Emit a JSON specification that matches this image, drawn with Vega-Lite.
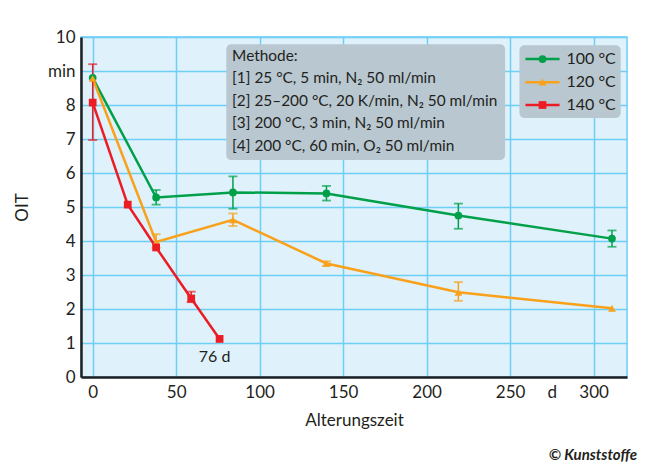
{
  "$schema": "https://vega.github.io/schema/vega-lite/v6.json",
  "autosize": {"type": "none"},
  "width": 546,
  "height": 340,
  "padding": {"left": 81, "top": 37, "right": 21, "bottom": 89},
  "background": "white",
  "config": {
    "font": "Lato",
    "view": {"fill": "#dff1fa", "stroke": "#6dcff6", "strokeWidth": 1.5},
    "axis": {"labelFont": "Lato", "titleFont": "Lato", "labelColor": "#231f20", "titleColor": "#231f20", "labelFontSize": 17, "titleFontSize": 17, "titleFontWeight": "normal", "grid": true, "gridColor": "#6dcff6", "gridWidth": 1.5, "domainColor": "#231f20", "domainWidth": 2.5, "ticks": false},
    "text": {"font": "Lato", "color": "#231f20"}
  },
  "data": {"values": [
    {"series": "100 °C", "t": 0, "oit": 8.8, "lo": null, "hi": null},
    {"series": "100 °C", "t": 38, "oit": 5.28, "lo": 5.07, "hi": 5.5},
    {"series": "100 °C", "t": 84, "oit": 5.43, "lo": 4.95, "hi": 5.9},
    {"series": "100 °C", "t": 140, "oit": 5.4, "lo": 5.19, "hi": 5.62},
    {"series": "100 °C", "t": 219, "oit": 4.75, "lo": 4.36, "hi": 5.1},
    {"series": "100 °C", "t": 311, "oit": 4.07, "lo": 3.83, "hi": 4.31},
    {"series": "120 °C", "t": 0, "oit": 8.78, "lo": null, "hi": null},
    {"series": "120 °C", "t": 38, "oit": 3.97, "lo": 3.8, "hi": 4.2},
    {"series": "120 °C", "t": 84, "oit": 4.62, "lo": 4.44, "hi": 4.81},
    {"series": "120 °C", "t": 140, "oit": 3.34, "lo": 3.27, "hi": 3.4},
    {"series": "120 °C", "t": 219, "oit": 2.49, "lo": 2.24, "hi": 2.79},
    {"series": "120 °C", "t": 311, "oit": 2.02, "lo": null, "hi": null},
    {"series": "140 °C", "t": 0, "oit": 8.07, "lo": 6.97, "hi": 9.2},
    {"series": "140 °C", "t": 21, "oit": 5.07, "lo": null, "hi": null},
    {"series": "140 °C", "t": 38, "oit": 3.81, "lo": null, "hi": null},
    {"series": "140 °C", "t": 59, "oit": 2.31, "lo": 2.2, "hi": 2.51},
    {"series": "140 °C", "t": 76, "oit": 1.12, "lo": null, "hi": null}
  ]},
  "layer": [
    {"mark": {"type": "line", "strokeWidth": 2.5},
      "encoding": {
        "x": {"field": "t", "type": "quantitative", "title": "Alterungszeit", "scale": {"domain": [-7, 320], "nice": false, "zero": false},
          "axis": {"values": [0, 50, 100, 150, 200, 250, 275, 300], "labelExpr": "datum.value == 275 ? 'd' : datum.label", "grid": true, "gridOpacity": {"condition": {"test": "datum.value == 275", "value": 0}, "value": 1}, "title": "Alterungszeit", "labelPadding": 7, "titlePadding": 12, "labelFlush": false}},
        "y": {"field": "oit", "type": "quantitative", "title": "OIT", "scale": {"domain": [0, 10], "nice": false},
          "axis": {"values": [0, 1, 2, 3, 4, 5, 6, 7, 8, 9, 10], "labelExpr": "datum.value == 9 ? 'min' : datum.label", "grid": true, "title": "OIT", "labelPadding": 6, "titlePadding": 16}},
        "color": {"field": "series", "type": "nominal", "scale": {"domain": ["100 °C", "120 °C", "140 °C"], "range": ["#00a04b", "#f9a11b", "#ec1c24"]}, "legend": null}}},
    {"transform": [{"filter": "datum.lo != null"}], "mark": {"type": "rule", "strokeWidth": 1.5},
      "encoding": {
        "x": {"field": "t", "type": "quantitative", "title": "Alterungszeit", "scale": {"domain": [-7, 320], "nice": false, "zero": false},
          "axis": {"values": [0, 50, 100, 150, 200, 250, 275, 300], "labelExpr": "datum.value == 275 ? 'd' : datum.label", "grid": true, "gridOpacity": {"condition": {"test": "datum.value == 275", "value": 0}, "value": 1}, "title": "Alterungszeit", "labelPadding": 7, "titlePadding": 12, "labelFlush": false}},
        "y": {"field": "lo", "type": "quantitative", "title": "OIT", "scale": {"domain": [0, 10], "nice": false},
          "axis": {"values": [0, 1, 2, 3, 4, 5, 6, 7, 8, 9, 10], "labelExpr": "datum.value == 9 ? 'min' : datum.label", "grid": true, "title": "OIT", "labelPadding": 6, "titlePadding": 16}},
        "y2": {"field": "hi"},
        "color": {"field": "series", "type": "nominal", "legend": null}}},
    {"transform": [{"filter": "datum.lo != null"}], "mark": {"type": "tick", "orient": "horizontal", "thickness": 1.8, "size": 9},
      "encoding": {
        "x": {"field": "t", "type": "quantitative", "title": "Alterungszeit", "scale": {"domain": [-7, 320], "nice": false, "zero": false},
          "axis": {"values": [0, 50, 100, 150, 200, 250, 275, 300], "labelExpr": "datum.value == 275 ? 'd' : datum.label", "grid": true, "gridOpacity": {"condition": {"test": "datum.value == 275", "value": 0}, "value": 1}, "title": "Alterungszeit", "labelPadding": 7, "titlePadding": 12, "labelFlush": false}},
        "y": {"field": "lo", "type": "quantitative", "title": "OIT", "scale": {"domain": [0, 10], "nice": false},
          "axis": {"values": [0, 1, 2, 3, 4, 5, 6, 7, 8, 9, 10], "labelExpr": "datum.value == 9 ? 'min' : datum.label", "grid": true, "title": "OIT", "labelPadding": 6, "titlePadding": 16}},
        "color": {"field": "series", "type": "nominal", "legend": null}}},
    {"transform": [{"filter": "datum.lo != null"}], "mark": {"type": "tick", "orient": "horizontal", "thickness": 1.8, "size": 9},
      "encoding": {
        "x": {"field": "t", "type": "quantitative", "title": "Alterungszeit", "scale": {"domain": [-7, 320], "nice": false, "zero": false},
          "axis": {"values": [0, 50, 100, 150, 200, 250, 275, 300], "labelExpr": "datum.value == 275 ? 'd' : datum.label", "grid": true, "gridOpacity": {"condition": {"test": "datum.value == 275", "value": 0}, "value": 1}, "title": "Alterungszeit", "labelPadding": 7, "titlePadding": 12, "labelFlush": false}},
        "y": {"field": "hi", "type": "quantitative", "title": "OIT", "scale": {"domain": [0, 10], "nice": false},
          "axis": {"values": [0, 1, 2, 3, 4, 5, 6, 7, 8, 9, 10], "labelExpr": "datum.value == 9 ? 'min' : datum.label", "grid": true, "title": "OIT", "labelPadding": 6, "titlePadding": 16}},
        "color": {"field": "series", "type": "nominal", "legend": null}}},
    {"mark": {"type": "point", "filled": true, "size": 60, "opacity": 1},
      "encoding": {
        "x": {"field": "t", "type": "quantitative", "title": "Alterungszeit", "scale": {"domain": [-7, 320], "nice": false, "zero": false},
          "axis": {"values": [0, 50, 100, 150, 200, 250, 275, 300], "labelExpr": "datum.value == 275 ? 'd' : datum.label", "grid": true, "gridOpacity": {"condition": {"test": "datum.value == 275", "value": 0}, "value": 1}, "title": "Alterungszeit", "labelPadding": 7, "titlePadding": 12, "labelFlush": false}},
        "y": {"field": "oit", "type": "quantitative", "title": "OIT", "scale": {"domain": [0, 10], "nice": false},
          "axis": {"values": [0, 1, 2, 3, 4, 5, 6, 7, 8, 9, 10], "labelExpr": "datum.value == 9 ? 'min' : datum.label", "grid": true, "title": "OIT", "labelPadding": 6, "titlePadding": 16}},
        "color": {"field": "series", "type": "nominal", "legend": null},
        "shape": {"field": "series", "type": "nominal", "scale": {"domain": ["100 °C", "120 °C", "140 °C"], "range": ["circle", "triangle-up", "square"]}, "legend": null}}},
    {"data": {"values": [{"note": "Methode"}]}, "mark": {"type": "rect", "fill": "#b8c7d0", "cornerRadius": 5},
      "encoding": {
        "x": {"datum": 80, "title": "Alterungszeit", "scale": {"domain": [-7, 320], "nice": false, "zero": false},
          "axis": {"values": [0, 50, 100, 150, 200, 250, 275, 300], "labelExpr": "datum.value == 275 ? 'd' : datum.label", "grid": true, "gridOpacity": {"condition": {"test": "datum.value == 275", "value": 0}, "value": 1}, "title": "Alterungszeit", "labelPadding": 7, "titlePadding": 12, "labelFlush": false}},
        "x2": {"datum": 247},
        "y": {"datum": 9.79, "title": "OIT", "scale": {"domain": [0, 10], "nice": false},
          "axis": {"values": [0, 1, 2, 3, 4, 5, 6, 7, 8, 9, 10], "labelExpr": "datum.value == 9 ? 'min' : datum.label", "grid": true, "title": "OIT", "labelPadding": 6, "titlePadding": 16}},
        "y2": {"datum": 6.38}}},
    {"data": {"values": [{"note": "Methode"}]}, "mark": {"type": "text", "align": "left", "baseline": "top", "fontSize": 15.4, "lineHeight": 22.6,
      "text": ["Methode:", "[1] 25 °C, 5 min, N₂ 50 ml/min", "[2] 25–200 °C, 20 K/min, N₂ 50 ml/min", "[3] 200 °C, 3 min, N₂ 50 ml/min", "[4] 200 °C, 60 min, O₂ 50 ml/min"]},
      "encoding": {
        "x": {"datum": 83.5, "title": "Alterungszeit", "scale": {"domain": [-7, 320], "nice": false, "zero": false},
          "axis": {"values": [0, 50, 100, 150, 200, 250, 275, 300], "labelExpr": "datum.value == 275 ? 'd' : datum.label", "grid": true, "gridOpacity": {"condition": {"test": "datum.value == 275", "value": 0}, "value": 1}, "title": "Alterungszeit", "labelPadding": 7, "titlePadding": 12, "labelFlush": false}},
        "y": {"datum": 9.66, "title": "OIT", "scale": {"domain": [0, 10], "nice": false},
          "axis": {"values": [0, 1, 2, 3, 4, 5, 6, 7, 8, 9, 10], "labelExpr": "datum.value == 9 ? 'min' : datum.label", "grid": true, "title": "OIT", "labelPadding": 6, "titlePadding": 16}}}},
    {"data": {"values": [{"note": "legend"}]}, "mark": {"type": "rect", "fill": "#b8c7d0", "cornerRadius": 5},
      "encoding": {
        "x": {"datum": 255.6, "title": "Alterungszeit", "scale": {"domain": [-7, 320], "nice": false, "zero": false},
          "axis": {"values": [0, 50, 100, 150, 200, 250, 275, 300], "labelExpr": "datum.value == 275 ? 'd' : datum.label", "grid": true, "gridOpacity": {"condition": {"test": "datum.value == 275", "value": 0}, "value": 1}, "title": "Alterungszeit", "labelPadding": 7, "titlePadding": 12, "labelFlush": false}},
        "x2": {"datum": 316.2},
        "y": {"datum": 9.76, "title": "OIT", "scale": {"domain": [0, 10], "nice": false},
          "axis": {"values": [0, 1, 2, 3, 4, 5, 6, 7, 8, 9, 10], "labelExpr": "datum.value == 9 ? 'min' : datum.label", "grid": true, "title": "OIT", "labelPadding": 6, "titlePadding": 16}},
        "y2": {"datum": 7.62}}},
    {"data": {"values": [{"note": "legend"}]}, "mark": {"type": "rule", "strokeWidth": 2.5, "color": "#00a04b"},
      "encoding": {
        "x": {"datum": 259.2, "title": "Alterungszeit", "scale": {"domain": [-7, 320], "nice": false, "zero": false},
          "axis": {"values": [0, 50, 100, 150, 200, 250, 275, 300], "labelExpr": "datum.value == 275 ? 'd' : datum.label", "grid": true, "gridOpacity": {"condition": {"test": "datum.value == 275", "value": 0}, "value": 1}, "title": "Alterungszeit", "labelPadding": 7, "titlePadding": 12, "labelFlush": false}},
        "x2": {"datum": 279.6},
        "y": {"datum": 9.35, "title": "OIT", "scale": {"domain": [0, 10], "nice": false},
          "axis": {"values": [0, 1, 2, 3, 4, 5, 6, 7, 8, 9, 10], "labelExpr": "datum.value == 9 ? 'min' : datum.label", "grid": true, "title": "OIT", "labelPadding": 6, "titlePadding": 16}}}},
    {"data": {"values": [{"note": "legend"}]}, "mark": {"type": "rule", "strokeWidth": 2.5, "color": "#f9a11b"},
      "encoding": {
        "x": {"datum": 259.2, "title": "Alterungszeit", "scale": {"domain": [-7, 320], "nice": false, "zero": false},
          "axis": {"values": [0, 50, 100, 150, 200, 250, 275, 300], "labelExpr": "datum.value == 275 ? 'd' : datum.label", "grid": true, "gridOpacity": {"condition": {"test": "datum.value == 275", "value": 0}, "value": 1}, "title": "Alterungszeit", "labelPadding": 7, "titlePadding": 12, "labelFlush": false}},
        "x2": {"datum": 279.6},
        "y": {"datum": 8.67, "title": "OIT", "scale": {"domain": [0, 10], "nice": false},
          "axis": {"values": [0, 1, 2, 3, 4, 5, 6, 7, 8, 9, 10], "labelExpr": "datum.value == 9 ? 'min' : datum.label", "grid": true, "title": "OIT", "labelPadding": 6, "titlePadding": 16}}}},
    {"data": {"values": [{"note": "legend"}]}, "mark": {"type": "rule", "strokeWidth": 2.5, "color": "#ec1c24"},
      "encoding": {
        "x": {"datum": 259.2, "title": "Alterungszeit", "scale": {"domain": [-7, 320], "nice": false, "zero": false},
          "axis": {"values": [0, 50, 100, 150, 200, 250, 275, 300], "labelExpr": "datum.value == 275 ? 'd' : datum.label", "grid": true, "gridOpacity": {"condition": {"test": "datum.value == 275", "value": 0}, "value": 1}, "title": "Alterungszeit", "labelPadding": 7, "titlePadding": 12, "labelFlush": false}},
        "x2": {"datum": 279.6},
        "y": {"datum": 8.0, "title": "OIT", "scale": {"domain": [0, 10], "nice": false},
          "axis": {"values": [0, 1, 2, 3, 4, 5, 6, 7, 8, 9, 10], "labelExpr": "datum.value == 9 ? 'min' : datum.label", "grid": true, "title": "OIT", "labelPadding": 6, "titlePadding": 16}}}},
    {"data": {"values": [{"note": "legend"}]}, "mark": {"type": "point", "filled": true, "size": 60, "opacity": 1, "shape": "circle", "color": "#00a04b"},
      "encoding": {
        "x": {"datum": 269.4, "title": "Alterungszeit", "scale": {"domain": [-7, 320], "nice": false, "zero": false},
          "axis": {"values": [0, 50, 100, 150, 200, 250, 275, 300], "labelExpr": "datum.value == 275 ? 'd' : datum.label", "grid": true, "gridOpacity": {"condition": {"test": "datum.value == 275", "value": 0}, "value": 1}, "title": "Alterungszeit", "labelPadding": 7, "titlePadding": 12, "labelFlush": false}},
        "y": {"datum": 9.35, "title": "OIT", "scale": {"domain": [0, 10], "nice": false},
          "axis": {"values": [0, 1, 2, 3, 4, 5, 6, 7, 8, 9, 10], "labelExpr": "datum.value == 9 ? 'min' : datum.label", "grid": true, "title": "OIT", "labelPadding": 6, "titlePadding": 16}}}},
    {"data": {"values": [{"note": "legend"}]}, "mark": {"type": "point", "filled": true, "size": 60, "opacity": 1, "shape": "triangle-up", "color": "#f9a11b"},
      "encoding": {
        "x": {"datum": 269.4, "title": "Alterungszeit", "scale": {"domain": [-7, 320], "nice": false, "zero": false},
          "axis": {"values": [0, 50, 100, 150, 200, 250, 275, 300], "labelExpr": "datum.value == 275 ? 'd' : datum.label", "grid": true, "gridOpacity": {"condition": {"test": "datum.value == 275", "value": 0}, "value": 1}, "title": "Alterungszeit", "labelPadding": 7, "titlePadding": 12, "labelFlush": false}},
        "y": {"datum": 8.67, "title": "OIT", "scale": {"domain": [0, 10], "nice": false},
          "axis": {"values": [0, 1, 2, 3, 4, 5, 6, 7, 8, 9, 10], "labelExpr": "datum.value == 9 ? 'min' : datum.label", "grid": true, "title": "OIT", "labelPadding": 6, "titlePadding": 16}}}},
    {"data": {"values": [{"note": "legend"}]}, "mark": {"type": "point", "filled": true, "size": 60, "opacity": 1, "shape": "square", "color": "#ec1c24"},
      "encoding": {
        "x": {"datum": 269.4, "title": "Alterungszeit", "scale": {"domain": [-7, 320], "nice": false, "zero": false},
          "axis": {"values": [0, 50, 100, 150, 200, 250, 275, 300], "labelExpr": "datum.value == 275 ? 'd' : datum.label", "grid": true, "gridOpacity": {"condition": {"test": "datum.value == 275", "value": 0}, "value": 1}, "title": "Alterungszeit", "labelPadding": 7, "titlePadding": 12, "labelFlush": false}},
        "y": {"datum": 8.0, "title": "OIT", "scale": {"domain": [0, 10], "nice": false},
          "axis": {"values": [0, 1, 2, 3, 4, 5, 6, 7, 8, 9, 10], "labelExpr": "datum.value == 9 ? 'min' : datum.label", "grid": true, "title": "OIT", "labelPadding": 6, "titlePadding": 16}}}},
    {"data": {"values": [{"note": "legend"}]}, "mark": {"type": "text", "align": "left", "baseline": "middle", "fontSize": 16, "text": "100 °C"},
      "encoding": {
        "x": {"datum": 283.8, "title": "Alterungszeit", "scale": {"domain": [-7, 320], "nice": false, "zero": false},
          "axis": {"values": [0, 50, 100, 150, 200, 250, 275, 300], "labelExpr": "datum.value == 275 ? 'd' : datum.label", "grid": true, "gridOpacity": {"condition": {"test": "datum.value == 275", "value": 0}, "value": 1}, "title": "Alterungszeit", "labelPadding": 7, "titlePadding": 12, "labelFlush": false}},
        "y": {"datum": 9.35, "title": "OIT", "scale": {"domain": [0, 10], "nice": false},
          "axis": {"values": [0, 1, 2, 3, 4, 5, 6, 7, 8, 9, 10], "labelExpr": "datum.value == 9 ? 'min' : datum.label", "grid": true, "title": "OIT", "labelPadding": 6, "titlePadding": 16}}}},
    {"data": {"values": [{"note": "legend"}]}, "mark": {"type": "text", "align": "left", "baseline": "middle", "fontSize": 16, "text": "120 °C"},
      "encoding": {
        "x": {"datum": 283.8, "title": "Alterungszeit", "scale": {"domain": [-7, 320], "nice": false, "zero": false},
          "axis": {"values": [0, 50, 100, 150, 200, 250, 275, 300], "labelExpr": "datum.value == 275 ? 'd' : datum.label", "grid": true, "gridOpacity": {"condition": {"test": "datum.value == 275", "value": 0}, "value": 1}, "title": "Alterungszeit", "labelPadding": 7, "titlePadding": 12, "labelFlush": false}},
        "y": {"datum": 8.67, "title": "OIT", "scale": {"domain": [0, 10], "nice": false},
          "axis": {"values": [0, 1, 2, 3, 4, 5, 6, 7, 8, 9, 10], "labelExpr": "datum.value == 9 ? 'min' : datum.label", "grid": true, "title": "OIT", "labelPadding": 6, "titlePadding": 16}}}},
    {"data": {"values": [{"note": "legend"}]}, "mark": {"type": "text", "align": "left", "baseline": "middle", "fontSize": 16, "text": "140 °C"},
      "encoding": {
        "x": {"datum": 283.8, "title": "Alterungszeit", "scale": {"domain": [-7, 320], "nice": false, "zero": false},
          "axis": {"values": [0, 50, 100, 150, 200, 250, 275, 300], "labelExpr": "datum.value == 275 ? 'd' : datum.label", "grid": true, "gridOpacity": {"condition": {"test": "datum.value == 275", "value": 0}, "value": 1}, "title": "Alterungszeit", "labelPadding": 7, "titlePadding": 12, "labelFlush": false}},
        "y": {"datum": 8.0, "title": "OIT", "scale": {"domain": [0, 10], "nice": false},
          "axis": {"values": [0, 1, 2, 3, 4, 5, 6, 7, 8, 9, 10], "labelExpr": "datum.value == 9 ? 'min' : datum.label", "grid": true, "title": "OIT", "labelPadding": 6, "titlePadding": 16}}}},
    {"data": {"values": [{"note": "76 d"}]}, "mark": {"type": "text", "align": "center", "baseline": "middle", "fontSize": 16, "text": "76 d"},
      "encoding": {
        "x": {"datum": 73, "title": "Alterungszeit", "scale": {"domain": [-7, 320], "nice": false, "zero": false},
          "axis": {"values": [0, 50, 100, 150, 200, 250, 275, 300], "labelExpr": "datum.value == 275 ? 'd' : datum.label", "grid": true, "gridOpacity": {"condition": {"test": "datum.value == 275", "value": 0}, "value": 1}, "title": "Alterungszeit", "labelPadding": 7, "titlePadding": 12, "labelFlush": false}},
        "y": {"datum": 0.6, "title": "OIT", "scale": {"domain": [0, 10], "nice": false},
          "axis": {"values": [0, 1, 2, 3, 4, 5, 6, 7, 8, 9, 10], "labelExpr": "datum.value == 9 ? 'min' : datum.label", "grid": true, "title": "OIT", "labelPadding": 6, "titlePadding": 16}}}},
    {"data": {"values": [{"note": "copyright"}]}, "mark": {"type": "text", "align": "right", "baseline": "middle", "fontSize": 15, "fontStyle": "italic", "fontWeight": "bold", "text": "© Kunststoffe", "clip": false},
      "encoding": {
        "x": {"datum": 326, "title": "Alterungszeit", "scale": {"domain": [-7, 320], "nice": false, "zero": false},
          "axis": {"values": [0, 50, 100, 150, 200, 250, 275, 300], "labelExpr": "datum.value == 275 ? 'd' : datum.label", "grid": true, "gridOpacity": {"condition": {"test": "datum.value == 275", "value": 0}, "value": 1}, "title": "Alterungszeit", "labelPadding": 7, "titlePadding": 12, "labelFlush": false}},
        "y": {"datum": -2.29, "title": "OIT", "scale": {"domain": [0, 10], "nice": false},
          "axis": {"values": [0, 1, 2, 3, 4, 5, 6, 7, 8, 9, 10], "labelExpr": "datum.value == 9 ? 'min' : datum.label", "grid": true, "title": "OIT", "labelPadding": 6, "titlePadding": 16}}}}
  ]
}
